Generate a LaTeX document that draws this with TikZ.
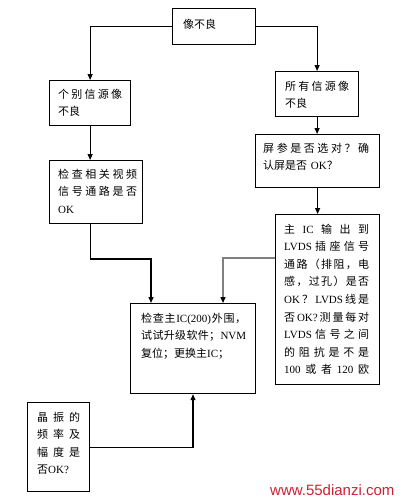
\documentclass[tikz,border=0pt]{standalone}
\usepackage{fontspec}
\setmainfont{Liberation Serif}
\newfontfamily\cjk{Noto Sans CJK SC}
\newfontfamily\wmfont{Liberation Sans}
\usetikzlibrary{arrows.meta}
\definecolor{wmred}{RGB}{205,32,52}
\def\jlend{\jlend}
\newcommand\jl[1]{\leavevmode\hbox to\linewidth{\jlaux#1\jlend}}
\def\jlaux#1{#1\futurelet\jlnext\jlcheck}
\def\jlcheck{\ifx\jlnext\jlend\expandafter\jlstop\else\hfil\expandafter\jlaux\fi}
\def\jlstop\jlend{}
\newcommand\la[1]{{\rmfamily #1}}
\tikzset{
  box/.style={draw, line width=1.2pt, inner sep=0pt, anchor=north west},
  txt/.style={anchor=north west, inner sep=0pt, align=left, font=\cjk\fontsize{11}{17.6}\selectfont},
  con/.style={line width=1.2pt, -{Triangle[length=6pt,width=5pt]}},
  gcon/.style={line width=1.2pt, draw=gray, -{Triangle[length=6pt,width=5pt,color=black]}}
}
\begin{document}
\begin{tikzpicture}[x=1pt,y=-1pt]
\useasboundingbox (0,0) rectangle (405,501);
% boxes
\node[box, minimum width=83pt, minimum height=36pt] (b1) at (172,8) {};
\node[box, minimum width=81pt, minimum height=45pt] (b2) at (49,80) {};
\node[box, minimum width=83pt, minimum height=45pt] (b3) at (275,71) {};
\node[box, minimum width=124pt, minimum height=53pt] (b4) at (255,134) {};
\node[box, minimum width=93pt, minimum height=63pt] (b5) at (49,160) {};
\node[box, minimum width=104pt, minimum height=170pt] (b6) at (275,214) {};
\node[box, minimum width=125pt, minimum height=90pt] (b7) at (130,303) {};
\node[box, minimum width=62pt, minimum height=89pt] (b8) at (27,402) {};
% texts
\node[txt, xshift=11pt, yshift=-10.7pt] (t1) at (b1.north west) {像不良};
\node[txt, text width=64pt, xshift=9pt, yshift=-8.7pt] (t2) at (b2.north west) {\jl{个别信源像}\\不良};
\node[txt, text width=64pt, xshift=10pt, yshift=-9.7pt] (t3) at (b3.north west) {\jl{所有信源像}\\不良};
\node[txt, text width=106pt, xshift=8pt, yshift=-8.7pt] (t4) at (b4.north west) {\jl{屏参是否选对？确}\\认屏是否 \la{OK}？};
\node[txt, text width=79pt, xshift=9pt, yshift=-8.7pt] (t5) at (b5.north west) {\jl{检查相关视频}\\\jl{信号通路是否}\\\la{OK}};
\node[txt, text width=85pt, xshift=9pt, yshift=-9.7pt] (t6) at (b6.north west) {\jl{主{\la{IC}}输出到}\\\jl{{\la{LVDS}}插座信号}\\\jl{通路（排阻，电}\\\jl{感，过孔）是否}\\\jl{{\la{OK}}？{\la{LVDS}}线是}\\\jl{否{\la{OK?}}测量每对}\\\jl{{\la{LVDS}}信号之间}\\\jl{的阻抗是不是}\\\jl{{\la{100}}或者{\la{120}}欧}};
\node[txt, text width=105pt, xshift=11pt, yshift=-9.7pt] (t7) at (b7.north west) {\jl{检查主{\la{IC(200)}}外围，}\\\jl{试试升级软件；{\la{NVM}}}\\复位；更换主\la{IC}；};
\node[txt, text width=43pt, xshift=10pt, yshift=-9.7pt] (t8) at (b8.north west) {\jl{晶振的}\\\jl{频率及}\\\jl{幅度是}\\否\la{OK?}};
% connectors
\coordinate (j1) at (151,259);
\coordinate (j2) at (223,258);
\coordinate (j3) at (193,446);
\draw[con] (b1.west) -| (b2.north);
\draw[con] (b1.east) -| (b3.north);
\draw[con] (b2.south) -- (b5.north -| b2.south);
\draw[con] (b3.south) -- (b4.north -| b3.south);
\draw[con] (b4.south) -- (b6.north -| b4.south);
\draw[con] (b5.south -| b2.south) |- (j1) -- (b7.north -| j1);
\draw[gcon] (b6.west |- j2) -- (j2) -- (b7.north -| j2);
\draw[con] (b8.east) -| (b7.south -| j3);
% watermark
\node[font=\wmfont\fontsize{15}{15}\selectfont, text=wmred, anchor=base west, inner sep=0pt] (wm) at (270,495) {www.55dianzi.com};
\end{tikzpicture}
\end{document}
